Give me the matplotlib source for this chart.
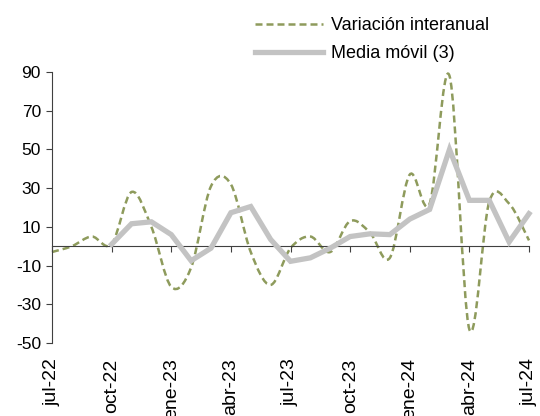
import matplotlib
matplotlib.use('Agg')
import matplotlib.pyplot as plt
import numpy as np
from matplotlib.path import Path
from matplotlib.patches import PathPatch
from matplotlib.lines import Line2D

plt.rcParams['font.family'] = ['Liberation Sans', 'DejaVu Sans']
plt.rcParams['axes.unicode_minus'] = False

meses = ['jul-22', 'ago-22', 'sep-22', 'oct-22', 'nov-22', 'dic-22',
         'ene-23', 'feb-23', 'mar-23', 'abr-23', 'may-23', 'jun-23',
         'jul-23', 'ago-23', 'sep-23', 'oct-23', 'nov-23', 'dic-23',
         'ene-24', 'feb-24', 'mar-24', 'abr-24', 'may-24', 'jun-24', 'jul-24']
variacion = [-3, 0, 5, 1, 28, 10, -21, -11, 31, 32, -3, -20,
             -1, 5, -3, 13, 7, -6, 37, 22, 88, -43, 23, 22, 3]
media = [np.nan, np.nan, np.nan, 1, 11.6, 12.6, 6, -7.5, -1, 17.3, 20.5, 3.5,
         -7.8, -6, -1, 5, 6.4, 6, 14, 19, 50, 23.7, 23.7, 2.2, 16.8]

olive = '#8e9b5c'
gray = '#c3c3c3'

x = np.arange(len(meses))
y = np.array(variacion, dtype=float)

fig = plt.figure(figsize=(5.4, 4.16), dpi=100)
ax = fig.add_axes([52/540, 1 - 343/416, (529 - 52)/540, (343 - 72)/416])

# smoothed line (Excel style) as cubic bezier segments through the points
verts = [(x[0], y[0])]
codes = [Path.MOVETO]
n = len(x)
for i in range(n - 1):
    p0 = np.array([x[max(i - 1, 0)], y[max(i - 1, 0)]])
    p1 = np.array([x[i], y[i]])
    p2 = np.array([x[i + 1], y[i + 1]])
    p3 = np.array([x[min(i + 2, n - 1)], y[min(i + 2, n - 1)]])
    c1 = p1 + (p2 - p0) / 6
    c2 = p2 - (p3 - p1) / 6
    verts += [tuple(c1), tuple(c2), tuple(p2)]
    codes += [Path.CURVE4] * 3
patch = PathPatch(Path(verts, codes), fill=False, edgecolor=olive, lw=1.8,
                  linestyle=(0, (2.8, 1.6)), clip_on=False, zorder=2)
ax.add_patch(patch)

ax.plot(x, media, color=gray, lw=3.8, solid_joinstyle='miter', zorder=3, clip_on=False)

ax.set_xlim(0, 24)
ax.set_ylim(-50, 90)
ax.set_yticks(np.arange(-50, 91, 20))
ax.spines['top'].set_visible(False)
ax.spines['right'].set_visible(False)
ax.spines['bottom'].set_position(('data', 0))
ax.spines['bottom'].set_color('#404040')
ax.spines['left'].set_color('#404040')
ax.set_xticks(x[::3])
ax.tick_params(axis='x', direction='out', length=4, color='#404040', labelbottom=False)
ax.tick_params(axis='y', direction='out', length=4, color='#404040', labelsize=12.5, pad=4)

sec = ax.secondary_xaxis('bottom')
sec.set_xticks(x[::3])
sec.set_xticklabels(meses[::3], rotation=90, va='top', ha='center')
sec.tick_params(length=0, pad=11, labelsize=14)
sec.spines['bottom'].set_visible(False)

handles = [Line2D([], [], color=olive, lw=1.8, linestyle=(0, (2.8, 1.6))),
           Line2D([], [], color=gray, lw=3.8)]
fig.legend(handles, ['Variación interanual', 'Media móvil (3)'],
           loc='upper left', bbox_to_anchor=(244/540, 1 - 6/416), frameon=False,
           fontsize=13, handlelength=3.8, handletextpad=0.4, labelspacing=0.62,
           borderaxespad=0.2)

fig.savefig('out.png', dpi=100)
